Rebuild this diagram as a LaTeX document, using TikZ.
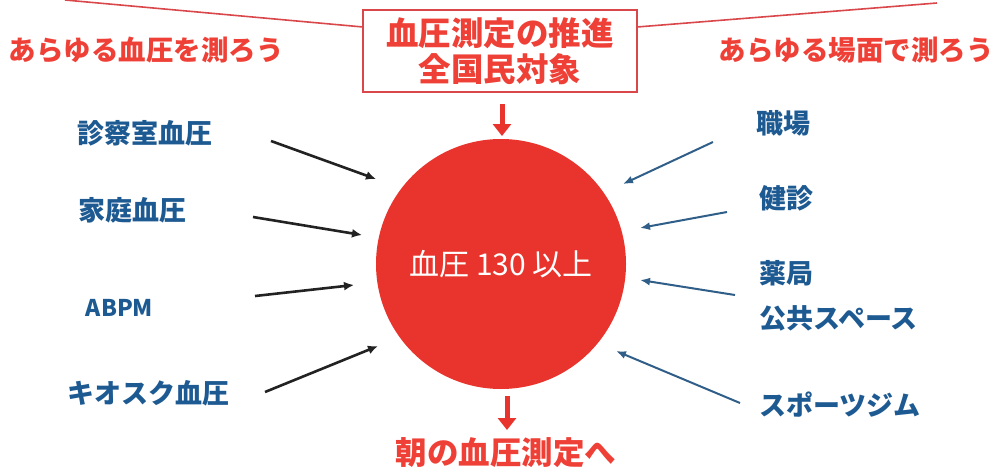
\documentclass[tikz,border=0pt]{standalone}
\usepackage{fontspec}
\newfontfamily\jp{Noto Sans CJK JP}
\usetikzlibrary{arrows.meta}
\definecolor{cred}{HTML}{E8342C}
\definecolor{tred}{HTML}{EE4036}
\definecolor{bred}{HTML}{D9474A}
\definecolor{tblue}{HTML}{1E5A92}
\definecolor{ablue}{HTML}{2F5E88}
\definecolor{ablack}{HTML}{222222}
\begin{document}
\begin{tikzpicture}[x=1pt,y=-1pt,
  lbl/.style={font=\jp\bfseries\fontsize{27}{31}\selectfont, text=tblue, inner sep=0pt},
  redlbl/.style={font=\jp\bfseries\fontsize{27.5}{31}\selectfont, text=tred, inner sep=0pt},
  blackarr/.style={draw=ablack, line width=2.6pt, -{Latex[length=10pt,width=9pt]}},
  bluearr/.style={draw=ablue, line width=2pt, -{Latex[length=10pt,width=8pt]}},
  redarr/.style={draw=cred, line width=5pt, -{Triangle[length=12pt,width=18pt]}}
]
\useasboundingbox (0,0) rectangle (993,471);
% top box
\node[draw=bred, line width=1.8pt, minimum width=274pt, minimum height=82pt, inner sep=0pt,
  align=center, text=tred, font=\jp\bfseries\fontsize{32.5}{36}\selectfont] (box) at (500,51)
  {血圧測定の推進\\全国民対象};
\coordinate (lt) at (65,0);
\coordinate (rt) at (937,3);
\coordinate (bl) at (363,27);
\coordinate (br) at (637,27);
\draw[bred, line width=1.6pt] (lt) -- (bl);
\draw[bred, line width=1.6pt] (rt) -- (br);
\node[redlbl] (l1) at (146.5,50) {あらゆる血圧を測ろう};
\node[redlbl] (r1) at (856,50) {あらゆる場面で測ろう};
% circle
\node[circle, fill=cred, minimum size=250pt, inner sep=0pt, text=white,
  font=\jp\fontsize{30}{34}\selectfont] (c) at (501,264) {血圧 130 以上};
% red arrows
\coordinate (ta1) at (502,104);
\coordinate (ta2) at (502,136);
\draw[redarr] (ta1) -- (ta2);
\coordinate (ba1) at (507,396);
\coordinate (ba2) at (507,430);
\draw[redarr] (ba1) -- (ba2);
\node[font=\jp\bfseries\fontsize{31.5}{35}\selectfont, text=tred, inner sep=0pt] (bot) at (506,453) {朝の血圧測定へ};
% left labels
\node[lbl] (a) at (144.5,133) {診察室血圧};
\node[lbl] (b) at (132,210) {家庭血圧};
\node[lbl, font=\jp\bfseries\fontsize{23}{27}\selectfont] (d) at (119.5,308) {ABPM};
\node[lbl] (e) at (148,393) {キオスク血圧};
\coordinate (a1) at (271,141); \coordinate (a2) at (376,179);
\coordinate (b1) at (253,217); \coordinate (b2) at (362,235);
\coordinate (d1) at (255,296); \coordinate (d2) at (354,285);
\coordinate (e1) at (265,392); \coordinate (e2) at (378,346);
\draw[blackarr] (a1) -- (a2);
\draw[blackarr] (b1) -- (b2);
\draw[blackarr] (d1) -- (d2);
\draw[blackarr] (e1) -- (e2);
% right labels
\node[lbl, anchor=west] (f) at (756,123) {職場};
\node[lbl, anchor=west] (g) at (759,198) {健診};
\node[lbl, anchor=west] (h) at (759,273) {薬局};
\node[lbl, anchor=west] (i) at (759,318) {公共スペース};
\node[lbl, anchor=west] (j) at (759,405) {スポーツジム};
\coordinate (f1) at (713,142); \coordinate (f2) at (623,184);
\coordinate (g1) at (727,212); \coordinate (g2) at (640,228);
\coordinate (h1) at (735,295); \coordinate (h2) at (640,280);
\coordinate (j1) at (740,403); \coordinate (j2) at (616,351);
\draw[bluearr] (f1) -- (f2);
\draw[bluearr] (g1) -- (g2);
\draw[bluearr] (h1) -- (h2);
\draw[bluearr] (j1) -- (j2);
\end{tikzpicture}
\end{document}
